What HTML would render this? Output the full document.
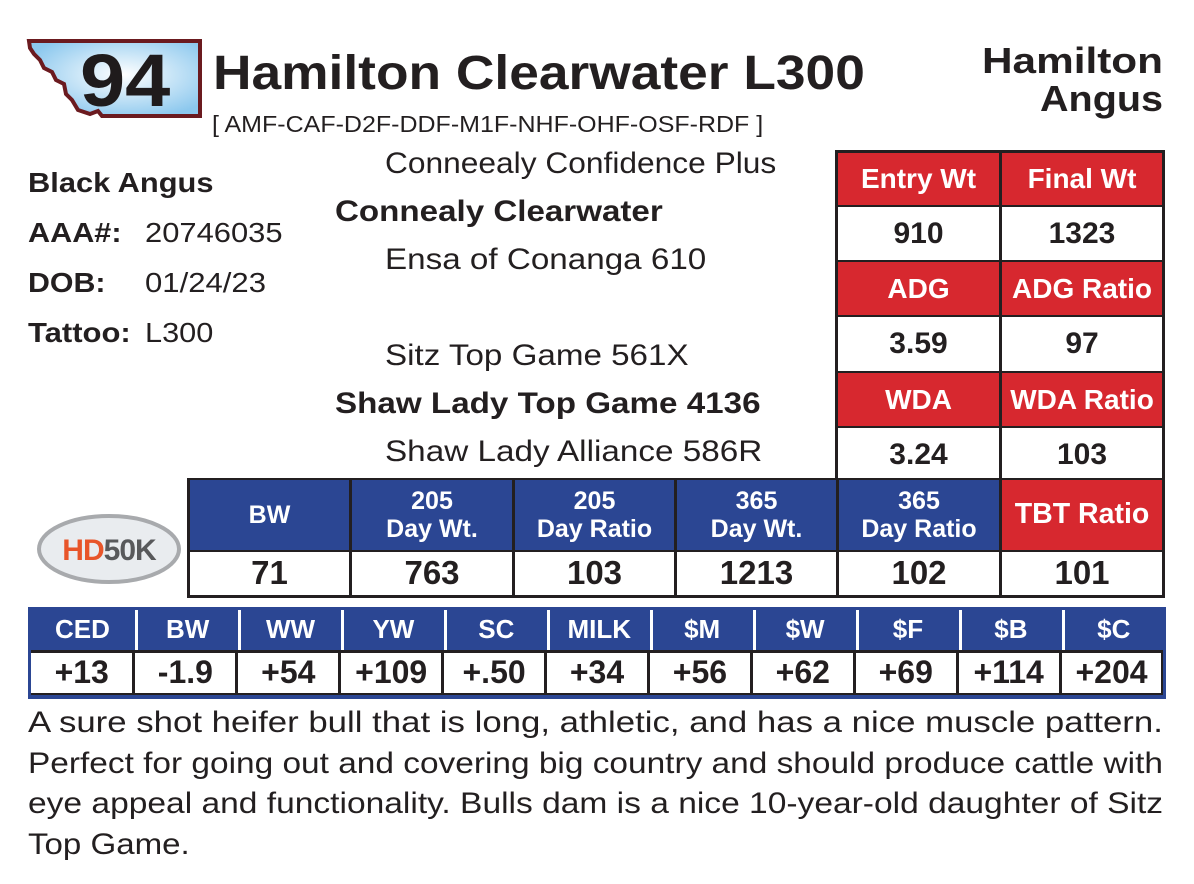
<!DOCTYPE html>
<html><head><style>
body{margin:0;width:1194px;height:884px;background:#fff;position:relative;font-family:"Liberation Sans",Arial,sans-serif;overflow:hidden;color:#231f20}
.a{position:absolute;white-space:nowrap;transform-origin:0 50%}
.b{font-weight:bold}
.c{position:absolute;display:flex;align-items:center;justify-content:center;text-align:center;box-sizing:border-box;line-height:1.12}
.red{background:#d7282f;color:#fff;font-weight:bold;font-size:28px}
.blue{background:#2b4693;color:#fff;font-size:25px;font-weight:bold}
.val{background:#fff;color:#231f20;font-weight:bold;font-size:30px}
</style></head><body>
<svg style="position:absolute;left:26px;top:38px" width="178" height="82" viewBox="0 0 178 82">
<defs><radialGradient id="g" cx="0.55" cy="0.45" r="0.6"><stop offset="0" stop-color="#fff"/><stop offset="1" stop-color="#8cc8ee"/></radialGradient></defs>
<path d="M3,3 L174,3 L174,78 L76,78 L72,73 L64,76 L52,72 L46,62 L40,56 L38,46 L30,42 L26,34 L18,30 L14,22 L8,16 L4,10 Z" fill="url(#g)" stroke="#6b1a1f" stroke-width="4"/>
</svg>
<div class="a b" id="t94" style="left:80px;top:38px;font-size:74px;color:#1f1b1c">94</div>
<div class="a b" id="title" style="left:213px;top:46px;font-size:48px">Hamilton Clearwater L300</div>
<div class="a" id="brk" style="left:212px;top:111px;font-size:23px">[ AMF-CAF-D2F-DDF-M1F-NHF-OHF-OSF-RDF ]</div>
<div class="a b" id="ham" style="left:982px;top:40px;font-size:36px">Hamilton</div>
<div class="a b" id="ang" style="left:1040px;top:78px;font-size:36px">Angus</div>

<div class="a b" id="l1" style="left:28px;top:167px;font-size:28px">Black Angus</div>
<div class="a b" id="l2" style="left:28px;top:217px;font-size:28px">AAA#:</div><div class="a" id="l3" style="left:145px;top:217px;font-size:28px">20746035</div>
<div class="a b" id="l4" style="left:28px;top:267px;font-size:28px">DOB:</div><div class="a" id="l5" style="left:145px;top:267px;font-size:28px">01/24/23</div>
<div class="a b" id="l6" style="left:28px;top:317px;font-size:28px">Tattoo:</div><div class="a" id="l7" style="left:145px;top:317px;font-size:28px">L300</div>

<div class="a" id="p1" style="left:385px;top:147px;font-size:30px">Conneealy Confidence Plus</div>
<div class="a b" id="p2" style="left:335px;top:195px;font-size:30px">Connealy Clearwater</div>
<div class="a" id="p3" style="left:385px;top:243px;font-size:30px">Ensa of Conanga 610</div>
<div class="a" id="p4" style="left:385px;top:339px;font-size:30px">Sitz Top Game 561X</div>
<div class="a b" id="p5" style="left:335px;top:387px;font-size:30px">Shaw Lady Top Game 4136</div>
<div class="a" id="p6" style="left:385px;top:435px;font-size:30px">Shaw Lady Alliance 586R</div>

<div style="position:absolute;left:835px;top:150px;width:330px;height:332px;background:#231f20"></div>
<div class="c red" style="left:838px;top:153px;width:161px;height:52px">Entry Wt</div>
<div class="c red" style="left:1002px;top:153px;width:160px;height:52px">Final Wt</div>
<div class="c val" style="left:838px;top:207px;width:161px;height:53px">910</div>
<div class="c val" style="left:1002px;top:207px;width:160px;height:53px">1323</div>
<div class="c red" style="left:838px;top:262px;width:161px;height:53px">ADG</div>
<div class="c red" style="left:1002px;top:262px;width:160px;height:53px">ADG Ratio</div>
<div class="c val" style="left:838px;top:317px;width:161px;height:54px">3.59</div>
<div class="c val" style="left:1002px;top:317px;width:160px;height:54px">97</div>
<div class="c red" style="left:838px;top:373px;width:161px;height:53px">WDA</div>
<div class="c red" style="left:1002px;top:373px;width:160px;height:53px">WDA Ratio</div>
<div class="c val" style="left:838px;top:428px;width:161px;height:54px">3.24</div>
<div class="c val" style="left:1002px;top:428px;width:160px;height:54px">103</div>

<svg style="position:absolute;left:36px;top:513px" width="146" height="72"><ellipse cx="73" cy="36" rx="70" ry="33" fill="#e9ecef" stroke="#a8aaad" stroke-width="4"/><text x="73" y="47" text-anchor="middle" font-family="Liberation Sans" font-weight="bold" font-size="30" letter-spacing="-1"><tspan fill="#e8552a">HD</tspan><tspan fill="#58595b">50K</tspan></text></svg>

<div style="position:absolute;left:187px;top:478px;width:978px;height:120px;background:#231f20"></div>
<div class="c blue" style="left:190px;top:480px;width:159px;height:70px">BW</div>
<div class="c blue" style="left:352px;top:480px;width:160px;height:70px">205<br>Day Wt.</div>
<div class="c blue" style="left:515px;top:480px;width:159px;height:70px">205<br>Day Ratio</div>
<div class="c blue" style="left:677px;top:480px;width:159px;height:70px">365<br>Day Wt.</div>
<div class="c blue" style="left:839px;top:480px;width:160px;height:70px">365<br>Day Ratio</div>
<div class="c red" style="left:1002px;top:480px;width:160px;height:70px;font-size:28.5px">TBT Ratio</div>
<div class="c val" style="left:190px;top:552px;width:159px;height:43px;font-size:33px">71</div>
<div class="c val" style="left:352px;top:552px;width:160px;height:43px;font-size:33px">763</div>
<div class="c val" style="left:515px;top:552px;width:159px;height:43px;font-size:33px">103</div>
<div class="c val" style="left:677px;top:552px;width:159px;height:43px;font-size:33px">1213</div>
<div class="c val" style="left:839px;top:552px;width:160px;height:43px;font-size:33px">102</div>
<div class="c val" style="left:1002px;top:552px;width:160px;height:43px;font-size:33px">101</div>

<div style="position:absolute;left:28px;top:607px;width:1138px;height:92px;background:#2b4693"></div>
<div style="position:absolute;left:31px;top:650px;width:1132px;height:45px;background:#231f20"></div>
<div id="epd"></div>

<div class="a" id="d1" style="left:28px;top:706px;font-size:30px">A sure shot heifer bull that is long, athletic, and has a nice muscle pattern.</div>
<div class="a" id="d2" style="left:28px;top:747px;font-size:30px">Perfect for going out and covering big country and should produce cattle with</div>
<div class="a" id="d3" style="left:28px;top:787px;font-size:30px">eye appeal and functionality. Bulls dam is a nice 10-year-old daughter of Sitz</div>
<div class="a" id="d4" style="left:28px;top:828px;font-size:30px">Top Game.</div>
<script>
var h=["CED","BW","WW","YW","SC","MILK","$M","$W","$F","$B","$C"],v=["+13","-1.9","+54","+109","+.50","+34","+56","+62","+69","+114","+204"];
var s="",w=1132/11;
for(var i=0;i<11;i++){var x=31+i*w;
s+='<div class="c" style="left:'+(x+(i?1.5:0))+'px;top:610px;width:'+(w-(i?1.5:0))+'px;height:40px;color:#fff;font-weight:bold;font-size:26px;'+(i?'border-left:3px solid #fff;':'')+'">'+h[i]+'</div>';
s+='<div class="c val" style="left:'+(x+(i?1.5:0))+'px;top:653px;width:'+(w-(i?3:0)-(i?0:1.5))+'px;height:40px;font-size:32px">'+v[i]+'</div>';}
document.getElementById("epd").innerHTML=s;
var T={t94:90,title:652,brk:551,ham:181,ang:123,l1:186,l2:94,l3:138,l4:78,l5:121,l6:103,l7:68,p1:391,p2:328,p3:321,p4:304,p5:426,p6:377,d1:1135,d2:1135,d3:1135,d4:162};
for(var k in T){var e=document.getElementById(k);e.style.transform="scaleX("+(T[k]/e.offsetWidth)+")";}
</script>
</body></html>
